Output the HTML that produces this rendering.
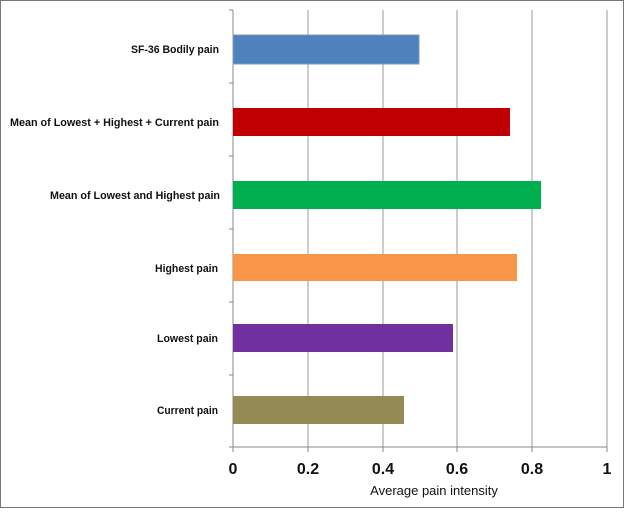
<!DOCTYPE html>
<html><head><style>
body{margin:0;background:#fff;}
</style></head><body>
<svg width="624" height="509" xmlns="http://www.w3.org/2000/svg" font-family="Liberation Sans, sans-serif">
<rect x="0.5" y="0.5" width="623" height="507" fill="#fff" stroke="#777"/>
<g stroke="#999" stroke-width="1">
<line x1="308" y1="10" x2="308" y2="447"/>
<line x1="383" y1="10" x2="383" y2="447"/>
<line x1="457" y1="10" x2="457" y2="447"/>
<line x1="532" y1="10" x2="532" y2="447"/>
<line x1="607" y1="10" x2="607" y2="447"/>
</g>
<g stroke="#888">
<line x1="233" y1="10" x2="233" y2="452"/>
<line x1="233" y1="447" x2="607" y2="447"/>
<line x1="229" y1="10" x2="233" y2="10"/>
<line x1="229" y1="83" x2="233" y2="83"/>
<line x1="229" y1="156" x2="233" y2="156"/>
<line x1="229" y1="229" x2="233" y2="229"/>
<line x1="229" y1="302" x2="233" y2="302"/>
<line x1="229" y1="375" x2="233" y2="375"/>
<line x1="229" y1="447" x2="233" y2="447"/>
<line x1="308" y1="447" x2="308" y2="452"/><line x1="383" y1="447" x2="383" y2="452"/><line x1="457" y1="447" x2="457" y2="452"/><line x1="532" y1="447" x2="532" y2="452"/><line x1="607" y1="447" x2="607" y2="452"/>
</g>
<rect x="233" y="35" width="186" height="29" fill="#4f81bd" stroke="#7a9cc8"/>
<rect x="233" y="108" width="277" height="28" fill="#c00000"/>
<rect x="233" y="181" width="308" height="28" fill="#00b050"/>
<rect x="233" y="254" width="284" height="27" fill="#f79646"/>
<rect x="233" y="324" width="220" height="28" fill="#7030a0"/>
<rect x="233" y="396" width="171" height="28" fill="#948a54"/>
<g font-size="11" font-weight="bold" text-anchor="end" fill="#111">
<text x="219" y="53" textLength="88" lengthAdjust="spacingAndGlyphs">SF-36 Bodily pain</text>
<text x="219" y="126" textLength="209" lengthAdjust="spacingAndGlyphs">Mean of Lowest + Highest + Current pain</text>
<text x="220" y="199" textLength="170" lengthAdjust="spacingAndGlyphs">Mean of Lowest and Highest pain</text>
<text x="218" y="272" textLength="63" lengthAdjust="spacingAndGlyphs">Highest pain</text>
<text x="218" y="342" textLength="61" lengthAdjust="spacingAndGlyphs">Lowest pain</text>
<text x="218" y="414" textLength="61" lengthAdjust="spacingAndGlyphs">Current pain</text>
</g>
<g font-size="16" font-weight="bold" text-anchor="middle" fill="#111">
<text x="233" y="474">0</text><text x="308" y="474">0.2</text><text x="383" y="474">0.4</text><text x="457" y="474">0.6</text><text x="532" y="474">0.8</text><text x="607" y="474">1</text>
</g>
<text x="434" y="495" font-size="13" text-anchor="middle" fill="#111">Average pain intensity</text>
</svg>
</body></html>
